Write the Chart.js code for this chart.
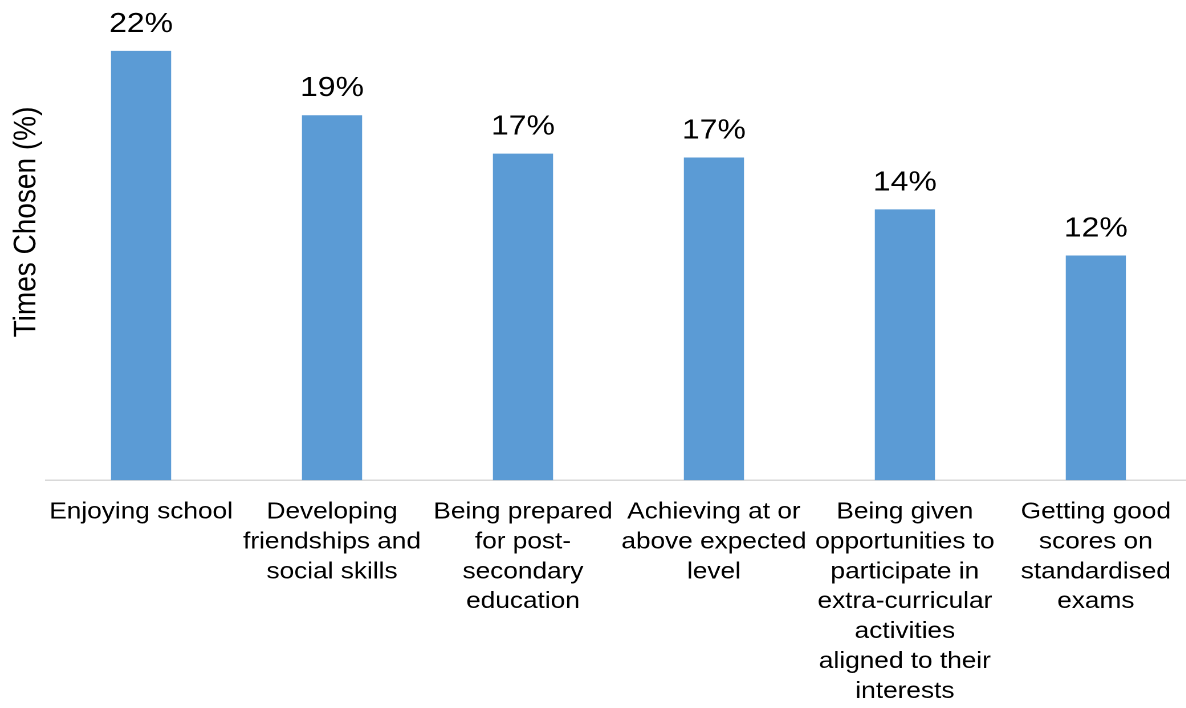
<!DOCTYPE html>
<html>
<head>
<meta charset="utf-8">
<title>Times Chosen</title>
<script src="https://cdn.jsdelivr.net/npm/chart.js@4.4.0/dist/chart.umd.min.js"></script>
<style>
  html, body { margin: 0; padding: 0; background: #fff; overflow: hidden; }
  /* text in this chart is set a little wide, so the whole canvas is stretched sideways */
  #wrap { width: 1045px; height: 708px; transform: scaleX(1.14); transform-origin: 0 0; }
</style>
</head>
<body>
<div id="wrap"><canvas id="myChart"></canvas></div>
<script>
// categories (one array per wrapped label)
const categories = [
  "Enjoying school",
  ["Developing", "friendships and", "social skills"],
  ["Being prepared", "for post-", "secondary", "education"],
  ["Achieving at or", "above expected", "level"],
  ["Being given", "opportunities to", "participate in", "extra-curricular", "activities", "aligned to their", "interests"],
  ["Getting good", "scores on", "standardised", "exams"],
];

// share of times each outcome was chosen, in %
const timesChosen = [22.35, 19.0, 17.0, 16.8, 14.1, 11.7];

const yTitle = "Times Chosen (%)";
const fontFamily = "'Liberation Sans', Arial, sans-serif";

// PLUGIN: percentage above each bar
const valueLabels = {
  id: "valueLabels",
  afterDatasetsDraw(chart) {
    const ctx = chart.ctx;
    const meta = chart.getDatasetMeta(0);
    ctx.save();
    ctx.font = "28px " + fontFamily;
    ctx.fillStyle = "#000";
    ctx.textAlign = "center";
    ctx.textBaseline = "alphabetic";
    meta.data.forEach((bar, i) => {
      ctx.fillText(Math.round(timesChosen[i]) + "%", bar.x, bar.y - 19);
    });
    ctx.restore();
  },
};

// PLUGIN: rotated y axis title
const axisTitle = {
  id: "axisTitle",
  afterDraw(chart) {
    const ctx = chart.ctx;
    ctx.save();
    ctx.translate(31, 222);
    ctx.rotate(-Math.PI / 2);
    ctx.font = "28px " + fontFamily;
    ctx.fillStyle = "#000";
    ctx.textAlign = "center";
    ctx.textBaseline = "alphabetic";
    ctx.fillText(yTitle, 0, 0);
    ctx.restore();
  },
};

const myChart = new Chart(document.getElementById("myChart"), {
  type: "bar",
  data: {
    labels: categories,
    datasets: [
      {
        label: yTitle,
        data: timesChosen,
        backgroundColor: "#5B9BD5",
        borderWidth: 0,
        categoryPercentage: 1,
        barPercentage: 0.315,
      },
    ],
  },
  options: {
    responsive: true,
    maintainAspectRatio: false,
    animation: false,
    devicePixelRatio: 2,
    // the x axis reserves more room than the wrapped labels need, so pull it down
    layout: { padding: { left: 40, right: 0, top: 0, bottom: -15.5 } },
    plugins: {
      legend: { display: false },
      tooltip: { enabled: false },
    },
    scales: {
      x: {
        grid: { display: false, drawTicks: false },
        border: { display: true, color: "#D9D9D9", width: 1.5 },
        ticks: {
          color: "#000",
          autoSkip: false,
          maxRotation: 0,
          minRotation: 0,
          padding: 17,
          font: { family: fontFamily, size: 23, lineHeight: 1.3 },
        },
      },
      y: {
        display: false,
        min: 0,
        max: 25,
      },
    },
  },
  plugins: [valueLabels, axisTitle],
});
</script>
</body>
</html>
